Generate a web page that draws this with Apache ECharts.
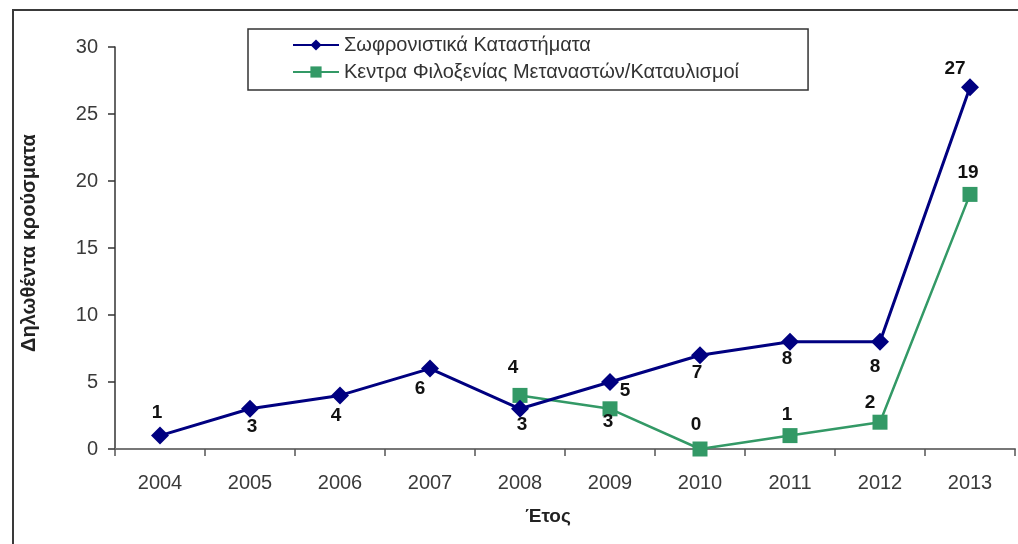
<!DOCTYPE html>
<html>
<head>
<meta charset="utf-8">
<script src="https://cdn.jsdelivr.net/npm/echarts@6/dist/echarts.min.js"></script>
<style>
html,body{margin:0;padding:0;background:#fff;}
#chart{width:1018px;height:544px;}
</style>
</head>
<body>
<div id="chart"></div>
<script>
const years = ['2004','2005','2006','2007','2008','2009','2010','2011','2012','2013'];
const prisons = [1, 3, 4, 6, 3, 5, 7, 8, 8, 27];
const migrantCentres = [null, null, null, null, 4, 3, 0, 1, 2, 19];
const seriesNames = ['Σωφρονιστικά Καταστήματα', 'Κεντρα Φιλοξενίας Μεταναστών/Καταυλισμοί'];
const yTicks = [0, 5, 10, 15, 20, 25, 30];
const yTitle = 'Δηλωθέντα κρούσματα';
const xTitle = 'Έτος';

// label offsets (style only)
const prisonLabelOffsets = [[-3,-23],[2,18],[-4,20],[-10,20],[2,16],[15,9],[-3,18],[-3,17],[-5,25],[-15,-18]];
const migrantLabelOffsets = [null,null,null,null,[-7,-28],[-2,13],[-4,-24],[-3,-21],[-10,-19],[-2,-22]];

function buildData(values, offsets){
  return values.map((v,i)=>{
    if(v===null) return null;
    return {value:v, label:{offset:offsets[i]}};
  });
}

const labelStyle = {show:true, position:'inside', fontFamily:'Liberation Sans, Arial', fontWeight:'bold', fontSize:19, color:'#111'};

const chart = echarts.init(document.getElementById('chart'));
chart.setOption({
  animation:false,
  backgroundColor:'#fff',
  graphic:[{type:'rect', shape:{x:13, y:10, width:1300, height:900}, style:{fill:'none', stroke:'#3a3a3a', lineWidth:2}, z:-10}],
  legend:{
    orient:'vertical', left:248, top:29,
    padding:[6, 69, 8, 44],
    itemWidth:46, itemHeight:14, itemGap:7,
    borderColor:'#333', borderWidth:1.5,
    textStyle:{fontFamily:'Liberation Sans, Arial', fontSize:20, color:'#333'},
    data:seriesNames
  },
  grid:{left:115, right:3, top:47, bottom:95, containLabel:false},
  xAxis:{
    type:'category', data:years, boundaryGap:true,
    name:xTitle, nameLocation:'middle', nameGap:58,
    nameTextStyle:{fontFamily:'Liberation Sans, Arial', fontWeight:'bold', fontSize:19, color:'#222', padding:[0,34,0,0]},
    axisLine:{lineStyle:{color:'#777', width:2}},
    axisTick:{show:true, length:7, lineStyle:{color:'#555', width:1.5}},
    axisLabel:{margin:24, fontFamily:'Liberation Sans, Arial', fontSize:20, color:'#3a3a3a'}
  },
  yAxis:{
    type:'value', min:yTicks[0], max:yTicks[yTicks.length-1], interval:yTicks[1]-yTicks[0],
    name:yTitle, nameLocation:'middle', nameRotate:90, nameGap:76,
    nameTextStyle:{fontFamily:'Liberation Sans, Arial', fontWeight:'bold', fontSize:20, color:'#222', padding:[0,0,0,10]},
    axisLine:{show:true, lineStyle:{color:'#333', width:1.5}},
    axisTick:{show:true, length:7, lineStyle:{color:'#333', width:1.5}},
    axisLabel:{margin:17, fontFamily:'Liberation Sans, Arial', fontSize:20, color:'#3a3a3a'},
    splitLine:{show:false}
  },
  series:[
    {
      name:seriesNames[0], type:'line', data:buildData(prisons, prisonLabelOffsets),
      symbol:'diamond', symbolSize:18,
      lineStyle:{color:'#000080', width:3},
      itemStyle:{color:'#000080'},
      label:labelStyle, z:3
    },
    {
      name:seriesNames[1], type:'line', data:buildData(migrantCentres, migrantLabelOffsets),
      symbol:'rect', symbolSize:15,
      lineStyle:{color:'#339966', width:2.5},
      itemStyle:{color:'#339966'},
      label:labelStyle, z:2
    }
  ]
});
</script>
</body>
</html>
